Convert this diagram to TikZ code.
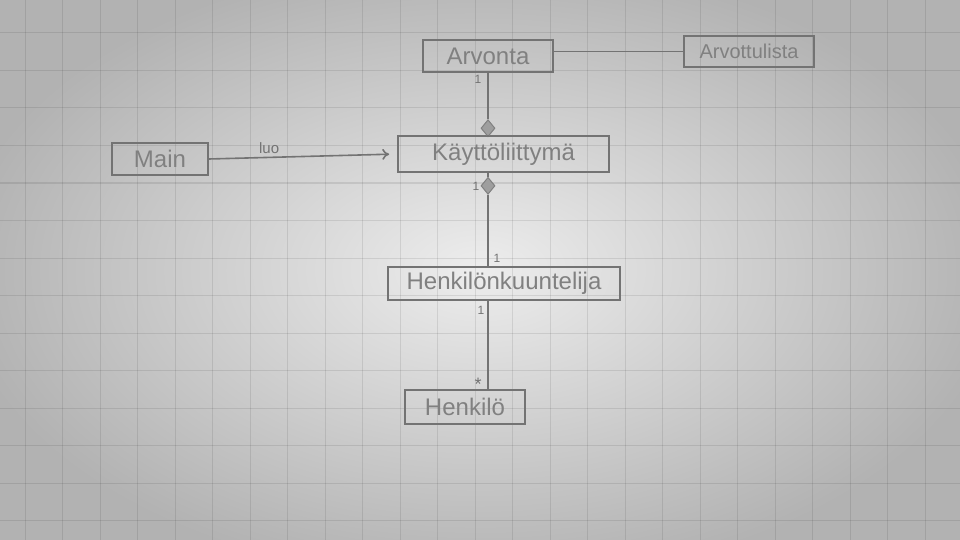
\documentclass[tikz,border=0pt]{standalone}
\usepackage{fontspec}
\setmainfont{Liberation Sans}
\usetikzlibrary{arrows.meta,shapes.geometric}
\begin{document}
\begin{tikzpicture}[x=1pt,y=-1pt,
  pencil/.style={draw=black!55, line width=1.6pt},
  umlbox/.style={pencil, rectangle, inner sep=0pt, text=black!50, font=\fontsize{24}{28}\selectfont},
  mult/.style={text=black!55, font=\fontsize{12}{14}\selectfont, inner sep=1pt},
  dia/.style={diamond, draw=black!50, fill=black!38, line width=1pt, inner sep=0pt, minimum width=14pt, minimum height=17pt}]
\useasboundingbox (0,0) rectangle (960,540);
\shade[inner color=black!7, outer color=black!30] (-40,-40) rectangle (1000,580);
\foreach \gx in {0,...,25} {\draw[black, opacity=0.09, line width=1pt] (25+37.5*\gx,0) -- (25+37.5*\gx,540);}
\foreach \gy in {0,...,14} {\draw[black, opacity=0.09, line width=1pt] (0,33+37.5*\gy) -- (960,33+37.5*\gy);}

\node[umlbox, minimum width=130, minimum height=32] (arv) at (488,56) {Arvonta};
\node[umlbox, minimum width=130, minimum height=31, font=\fontsize{20}{24}\selectfont] (lista) at (749,51.5) {Arvottulista};
\node[umlbox, minimum width=96, minimum height=32] (main) at (160,159) {Main};
\node[umlbox, minimum width=211, minimum height=36] (kl) at (503.5,154) {Käyttöliittymä};
\node[umlbox, minimum width=232, minimum height=33] (hk) at (504,283.5) {Henkilönkuuntelija};
\node[umlbox, minimum width=120, minimum height=34] (h) at (465,407) {Henkilö};

\node[dia, anchor=south] (d1) at ([yshift=-2pt]kl.north -| arv.south) {};
\node[dia, anchor=north] (d2) at ([yshift=-4pt]kl.south -| arv.south) {};

\draw[pencil] (arv.east |- lista.west) -- (lista.west);
\draw[pencil] (arv.south) -- (d1.north);
\draw[pencil] (d1.south) -- (kl.north -| d1.south);
\draw[pencil] (kl.south -| d2.north) -- (d2.north);
\draw[pencil] (d2.south) -- (hk.north -| d2.south);
\draw[pencil] (hk.south -| d2.south) -- (h.north -| d2.south);
\draw[pencil, -{To[length=7pt,width=11pt]}, shorten >=8pt] (main.east) -- (kl.west) node[mult, pos=0.32, above=2pt, font=\fontsize{15}{17}\selectfont] {luo};

\node[mult] (m1) at (478,79) {1};
\node[mult] (m2) at (476,186) {1};
\node[mult] (m3) at (497,258) {1};
\node[mult] (m4) at (481,310) {1};
\node[mult, font=\fontsize{18}{20}\selectfont] (m5) at (478,384) {*};
\end{tikzpicture}
\end{document}
